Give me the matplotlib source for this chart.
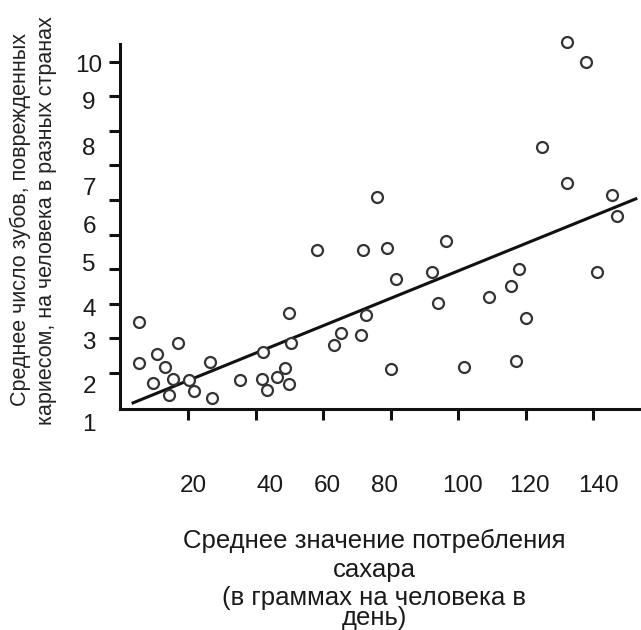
import matplotlib
matplotlib.use("Agg")
import matplotlib.pyplot as plt

plt.rcParams['font.family'] = ['Liberation Sans', 'DejaVu Sans']

# sugar per person per day (g) and decayed teeth per person
sugar = [5.6, 5.6, 10.7, 9.7, 13.2, 16.9, 15.6, 14.5, 20.3, 21.9,
         26.5, 27.2, 35.4, 42.3, 41.8, 43.3, 46.3, 48.7, 50.0, 50.4,
         50.0, 58.1, 132.2, 137.9, 124.8, 132.2, 145.7, 147.2, 75.9, 71.8,
         78.9, 96.4, 92.3, 81.5, 118.2, 115.7, 109.2, 94.2, 141.3, 120.1,
         72.7, 65.4, 63.2, 71.3, 80.1, 101.9, 117.1]
teeth = [2.48, 1.30, 1.55, 0.72, 1.18, 1.86, 0.82, 0.36, 0.80, 0.49,
         1.31, 0.27, 0.80, 1.60, 0.82, 0.51, 0.89, 1.14, 0.67, 1.86,
         2.73, 4.55, 10.58, 9.98, 7.52, 6.50, 6.14, 5.54, 6.10, 4.55,
         4.62, 4.82, 3.93, 3.71, 4.01, 3.51, 3.21, 3.01, 3.91, 2.60,
         2.68, 2.15, 1.81, 2.10, 1.11, 1.16, 1.36]

# trend line ends
trend_x = [3.3, 153.1]
trend_y = [0.12, 6.05]

x_ticks = [20, 40, 60, 80, 100, 120, 140]
y_ticks = [1, 2, 3, 4, 5, 6, 7, 8, 9, 10]

# label positions in the picture are shifted from the ticks (pixels from left/top)
x_label_px = [193, 270, 327, 385, 463, 529, 598]
y_label_px = [425, 387, 343, 310, 265, 227, 189, 149, 103, 66]

W, H = 641, 630
fig = plt.figure(figsize=(W / 100, H / 100), dpi=100)
ax = fig.add_axes([119.5 / W, (H - 409.3) / H, (638.6 - 119.5) / W, (409.3 - 44.3) / H])

ax.plot(trend_x, trend_y, color='#111111', lw=2.2, solid_capstyle='butt', zorder=2)
ax.scatter(sugar, teeth, s=62, facecolors='white', edgecolors='#333333',
           linewidths=1.6, zorder=3, clip_on=False)

ax.set_xlim(-0.3, 153.5)
ax.set_ylim(-0.05, 10.5)
ax.spines['top'].set_visible(False)
ax.spines['right'].set_visible(False)
for s in ['left', 'bottom']:
    ax.spines[s].set_linewidth(2.2)
    ax.spines[s].set_color('#111111')

ax.set_xticks(x_ticks)
ax.set_yticks(y_ticks)
ax.set_xticklabels([])
ax.set_yticklabels([])
ax.tick_params(length=8, width=2.2, color='#111111', direction='out')

# tick labels drawn by hand (they sit off the ticks)
for v, px in zip(x_ticks, x_label_px):
    fig.text(px / W, 1 - 486 / H, str(v), ha='center', va='center',
             fontsize=17.5, color='#1a1a1a')
for v, py in zip(y_ticks, y_label_px):
    fig.text(89 / W, 1 - py / H, str(v), ha='center', va='center',
             fontsize=17.5, color='#1a1a1a')

# x axis title (two blocks, the second one tightly spaced)
# baseline of a multi-line text = baseline of its last line
fig.text(374 / W, 1 - 577 / H, "Среднее значение потребления\nсахара",
         ha='center', va='baseline', ma='center', fontsize=18.5,
         linespacing=1.28, color='#1a1a1a')
fig.text(374 / W, 1 - 625 / H, "(в граммах на человека в\nдень)",
         ha='center', va='baseline', ma='center', fontsize=18.5,
         linespacing=0.8, color='#1a1a1a')

# y axis title, two lines
fig.text(20 / W, 1 - 220 / H, "Среднее число зубов, поврежденных",
         rotation=90, ha='center', va='center', fontsize=15.5, color='#222222')
fig.text(47 / W, 1 - 221 / H, "кариесом, на человека в разных странах",
         rotation=90, ha='center', va='center', fontsize=15.5, color='#222222')

fig.savefig('out.png', dpi=100)
